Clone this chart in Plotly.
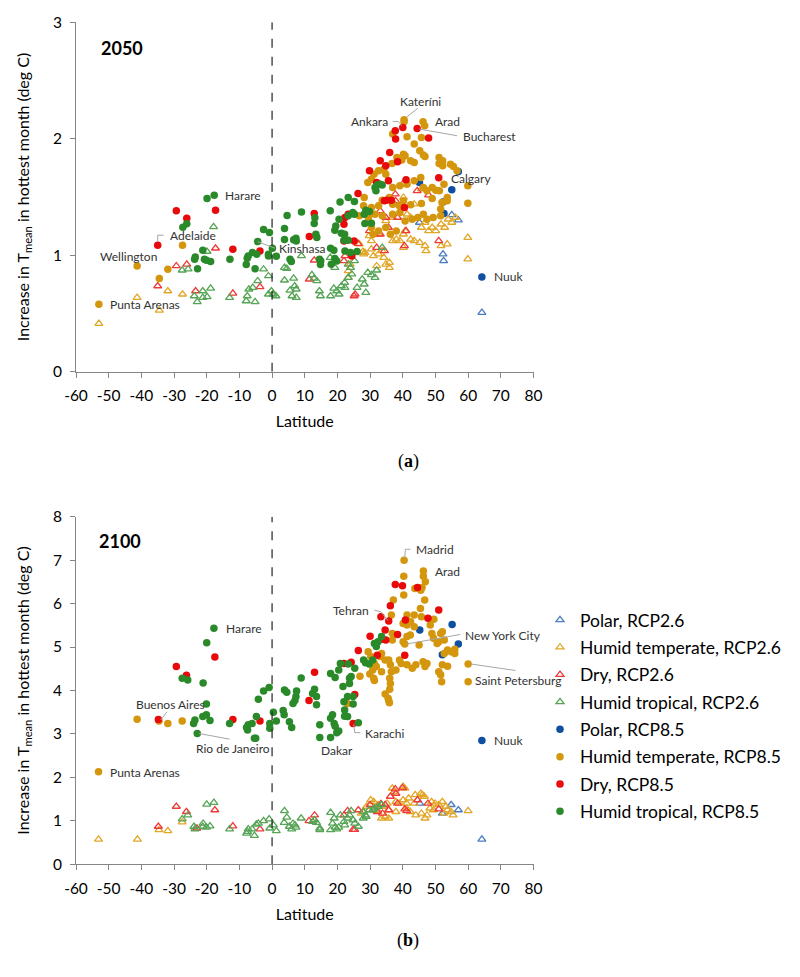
import plotly.graph_objects as go

# ---------------- DATA (latitude, increase in Tmean) ----------------
# Panel (a) 2050
a_polar26 = [(64.2,0.507),(52.3,1.009),(52.5,0.951),(55.0,1.347),(57.0,1.301),(45.1,1.281)]
a_temp26 = [(-53.0,0.413),(-41.3,0.636),(-34.5,0.527),(-31.9,0.693),(-27.4,0.665),
            (59.9,1.152),(59.9,0.966),(43.5,1.438),(45.7,1.567),(26.7,1.095),(27.8,1.031),(28.4,1.023),
            (29.7,1.166),(30.4,1.052),(31.0,0.994),(32.6,1.009),(33.7,1.037),(34.2,0.980),(34.8,0.922),
            (35.9,0.894),(35.9,0.937),(32.0,0.908),(36.9,1.123),(38.0,1.137),(39.1,1.123),(40.2,1.180),
            (40.7,1.209),(40.2,1.066),(42.4,1.137),(43.5,1.123),(45.2,1.109),(46.8,1.080),(47.1,1.037),
            (47.9,1.209),(49.0,1.238),(50.1,1.209),(51.7,1.266),(52.8,1.238),(53.9,1.309),(55.0,1.281),
            (56.1,1.324),(53.6,1.095),(51.7,1.080),(41.3,1.352),(40.2,1.496),(42.4,1.324),(36.9,1.324),
            (34.8,1.295),(32.6,1.180),(30.4,1.123),(45.7,1.238),(46.8,1.281),(23.3,0.808),(23.3,0.865),
            (23.9,0.922),(28.0,1.009)]
a_dry26 = [(-35.0,0.736),(-29.3,0.908),(-26.1,0.922),(-23.4,0.693),(-17.3,1.060),(-12.0,0.673),
           (-3.7,0.728),(12.9,0.957),(11.4,0.794),(22.0,0.951),(22.3,0.994),(25.1,0.650),(25.4,0.665),
           (26.3,1.100),(29.8,1.209),(32.0,1.066),(33.1,1.381),(33.1,1.180),(34.8,1.324),(35.6,1.238),
           (34.4,1.037),(37.7,1.524),(37.8,1.467),(38.4,1.324),(40.0,1.610),(40.5,1.080),(41.0,1.209),
           (44.4,1.553),(47.9,1.516),(51.0,1.123),(36.7,1.467)]
a_trop26 = [(-17.9,1.244),(-19.9,1.032),(-27.5,0.871),(-25.7,0.880),(-23.8,0.650),(-22.9,0.599),
            (-21.2,0.693),(-21.2,0.636),(-19.9,0.642),(-18.8,0.716),(-13.0,0.636),(-7.9,0.607),
            (-7.6,0.650),(-7.1,0.708),(-5.9,0.722),(-5.2,0.599),(-4.4,0.779),(-2.6,0.880),(-1.1,0.822),
            (-1.1,0.665),(-0.2,0.693),(0.3,0.665),(1.2,0.650),(3.8,0.785),(3.8,0.894),(4.5,0.885),
            (5.5,0.699),(6.1,0.650),(6.6,0.802),(6.9,0.736),(7.4,0.708),(7.4,0.636),(9.0,0.994),
            (12.2,0.831),(12.9,0.802),(13.7,0.779),(14.5,0.693),(14.8,0.650),(17.8,0.980),(17.9,0.650),
            (18.9,0.716),(19.2,0.894),(19.8,0.693),(20.5,0.665),(21.2,0.736),(22.2,0.765),(22.3,0.722),
            (23.3,0.922),(23.3,0.808),(24.0,0.894),(24.4,0.837),(25.2,0.951),(26.0,0.722),(27.6,0.794),
            (28.2,0.751),(28.7,0.679),(29.3,0.851),(30.4,0.831),(31.5,0.808),(32.0,0.871),(33.7,1.066)]
a_polar85 = [(45.1,1.625),(55.0,1.562),(57.0,1.719),(52.3,1.458),(52.6,1.358),(64.2,0.814)]
a_temp85 = [(-53.0,0.579),(-41.3,0.908),(-34.5,0.800),(-31.9,0.880),(-27.4,1.086),
            (40.4,2.163),(40.4,2.146),(46.2,2.146),(46.7,2.112),(45.7,2.011),(41.3,2.017),(36.9,2.040),
            (43.5,1.954),(45.2,1.897),(46.3,1.860),(46.8,1.848),(40.2,1.868),(40.7,1.854),(42.4,1.811),
            (43.5,1.797),(39.7,1.817),(36.7,1.788),(38.2,1.840),(51.1,1.840),(52.2,1.811),(54.6,1.782),
            (55.5,1.762),(56.6,1.725),(51.1,1.788),(52.2,1.768),(29.3,1.625),(30.4,1.653),(31.2,1.696),
            (32.6,1.725),(34.2,1.739),(34.8,1.696),(36.9,1.582),(39.1,1.596),(41.3,1.610),(43.5,1.639),
            (45.5,1.668),(46.3,1.582),(47.4,1.553),(49.0,1.582),(50.1,1.559),(51.2,1.553),(52.6,1.610),
            (59.9,1.596),(59.9,1.447),(53.6,1.467),(52.0,1.453),(28.2,1.496),(28.0,1.424),(30.4,1.410),
            (32.6,1.424),(33.7,1.473),(35.9,1.496),(36.9,1.438),(38.9,1.424),(40.2,1.467),(42.4,1.433),
            (45.7,1.444),(49.0,1.487),(26.7,1.338),(29.5,1.324),(31.5,1.352),(33.7,1.338),(36.9,1.352),
            (39.1,1.367),(40.7,1.295),(42.9,1.309),(44.6,1.324),(46.3,1.352),(47.4,1.309),(51.6,1.396),
            (51.6,1.338),(30.4,1.238),(32.6,1.209),(34.8,1.238),(36.2,1.180),(38.0,1.209),(30.9,1.180),
            (49.3,1.324),(53.6,1.496)]
a_dry85 = [(-35.0,1.086),(-29.3,1.381),(-26.1,1.318),(-17.3,1.387),(-12.0,1.052),(-3.7,1.037),
           (12.9,1.358),(11.4,1.160),(22.0,1.266),(22.3,1.324),(23.3,1.352),(22.0,1.123),(25.1,1.123),
           (24.4,0.994),(26.3,1.530),(29.8,1.725),(32.0,1.625),(33.1,1.811),(34.8,1.768),(34.4,1.467),
           (35.0,1.473),(35.6,1.639),(36.0,1.883),(37.7,2.069),(37.8,1.997),(40.0,2.097),(38.4,1.802),
           (40.5,1.410),(41.0,1.648),(44.4,2.089),(47.9,2.006),(51.0,1.665),(36.5,1.473)]
a_trop85 = [(-17.7,1.516),(-19.9,1.487),(-26.1,1.270),(-27.3,1.240),(-23.7,0.966),(-23.5,0.985),
            (-22.8,0.885),(-21.2,1.043),(-20.7,0.966),(-18.8,0.946),(-20.1,0.957),(-12.9,0.966),
            (-7.6,0.974),(-7.9,0.920),(-7.3,0.994),(-5.2,0.885),(-4.7,1.009),(-6.0,1.023),(-2.6,1.220),
            (-0.8,1.195),(-1.1,1.009),(-1.1,0.994),(1.3,0.991),(0.1,1.060),(-4.4,1.117),(3.8,1.135),
            (3.8,1.229),(4.6,1.341),(5.5,0.966),(5.9,0.946),(6.6,1.132),(7.3,1.146),(7.4,1.123),
            (9.0,1.372),(12.9,1.272),(13.1,1.321),(13.4,1.180),(13.7,1.152),(14.5,0.966),(14.8,0.920),
            (14.9,0.951),(17.8,1.381),(17.9,1.060),(18.9,1.043),(19.2,0.971),(19.8,0.951),(18.1,0.922),
            (19.2,1.215),(19.5,1.252),(20.8,1.458),(20.5,1.309),(21.2,1.189),(22.2,1.180),(22.0,1.129),
            (22.3,1.037),(23.3,1.496),(23.3,1.338),(23.3,1.129),(24.0,1.023),(25.2,1.461),(25.2,1.352),
            (24.7,1.367),(26.0,1.031),(28.2,1.352),(28.7,1.387),(29.8,1.375),(30.4,1.275),(28.4,1.272),
            (31.5,1.582),(32.3,1.605),(33.1,1.610),(33.7,1.602),(31.8,1.553)]

# Panel (b) 2100
b_polar26 = [(64.2,0.575),(54.8,1.37),(57.0,1.25),(45.2,1.40),(52.1,1.17)]
b_temp26 = [(-53.1,0.575),(-41.2,0.575),(-34.6,0.79),(-31.9,0.77),(-27.5,0.97),
            (60.0,1.23),(40.1,1.79),(40.6,1.75),(36.8,1.75),(37.4,1.67),(45.5,1.63),(46.0,1.60),
            (43.8,1.60),(46.6,1.56),(48.8,1.44),(49.9,1.40),(51.0,1.37),(52.1,1.44),(53.2,1.33),
            (53.7,1.25),(55.4,1.13),(54.8,1.21),(30.2,1.48),(31.1,1.44),(32.4,1.37),(34.1,1.33),
            (35.2,1.40),(35.7,1.25),(33.5,1.06),(34.6,1.10),(35.7,1.06),(37.9,1.44),(39.0,1.40),
            (40.1,1.48),(41.2,1.40),(41.8,1.52),(43.5,1.40),(44.0,1.13),(46.8,1.06),(47.4,1.13),
            (45.7,1.17),(48.3,1.29),(49.4,1.25),(28.9,1.33),(27.8,1.21),(27.3,1.17),(31.3,1.25),
            (32.4,1.23),(37.9,1.21),(41.2,1.29),(42.3,1.21),(52.6,1.17)]
b_dry26 = [(-34.8,0.87),(-29.3,1.33),(-26.2,1.21),(-23.0,0.83),(-17.5,1.25),(-12.0,0.88),
           (-3.7,0.81),(13.0,1.13),(11.3,1.00),(22.0,1.13),(23.1,1.23),(24.8,0.80),(25.3,0.80),
           (26.4,1.25),(30.0,1.37),(32.2,1.21),(33.3,1.39),(34.6,1.37),(35.7,1.25),(33.8,1.17),
           (36.2,1.56),(37.7,1.73),(37.9,1.63),(38.4,1.40),(39.9,1.76),(40.6,1.27),(41.2,1.23),
           (44.5,1.48),(47.7,1.40),(51.0,1.27)]
b_trop26 = [(-17.8,1.42),(-20.0,1.38),(-21.1,0.94),(-27.5,1.04),(-25.8,1.13),(-23.9,0.87),
            (-23.6,0.81),(-21.2,0.87),(-20.1,0.85),(-19.0,0.88),(-13.0,0.81),(-7.8,0.71),(-7.5,0.75),
            (-7.3,0.81),(-6.1,0.81),(-5.4,0.66),(-4.8,0.92),(-4.2,0.94),(-2.6,1.00),(-0.9,1.04),
            (-0.7,0.83),(0.4,0.90),(1.3,0.77),(3.7,0.96),(3.8,1.23),(4.5,1.08),(5.3,0.87),(6.0,0.81),
            (6.4,0.94),(7.0,0.90),(7.3,0.85),(8.9,1.06),(12.4,0.98),(13.0,1.02),(13.6,0.96),
            (14.6,0.83),(14.6,0.79),(17.9,1.19),(17.9,0.79),(18.5,0.94),(19.0,1.06),(19.3,0.85),
            (19.8,0.81),(20.4,0.85),(20.9,1.13),(22.0,0.98),(22.2,0.90),(23.1,1.06),(23.7,1.13),
            (24.2,1.23),(24.8,1.02),(25.3,0.94),(26.4,0.87),(28.0,1.21),(28.6,1.13),(29.7,1.25),
            (30.8,1.25),(31.3,1.29),(32.4,1.33),(33.5,1.37),(27.9,1.06),(28.8,1.10)]
b_polar85 = [(45.2,5.39),(55.1,5.52),(57.0,5.07),(52.1,4.82),(64.2,2.85)]
b_temp85 = [(-53.1,2.13),(-41.3,3.34),(-34.6,3.30),(-31.9,3.24),(-27.5,3.30),
            (40.4,7.00),(40.3,6.63),(40.3,6.20),(46.3,6.75),(46.3,6.63),(46.9,6.50),(45.9,6.37),
            (45.5,6.31),(46.7,6.08),(43.7,6.35),(37.1,6.08),(36.5,5.74),(41.3,5.74),(43.5,5.74),
            (45.4,5.89),(45.7,5.70),(40.1,5.54),(41.3,5.51),(42.4,5.58),(43.5,5.47),(48.4,5.51),
            (49.5,5.64),(48.9,5.31),(36.8,5.31),(36.8,5.16),(41.3,5.24),(42.3,5.28),(40.1,5.12),
            (40.6,5.07),(45.0,5.05),(49.4,5.20),(50.5,5.08),(51.0,5.12),(51.6,5.31),(52.1,5.35),
            (52.7,5.16),(29.4,4.89),(30.2,4.78),(31.3,4.62),(30.8,4.47),(31.9,4.55),(33.0,4.78),
            (33.5,4.85),(34.6,4.70),(33.5,4.43),(35.7,4.70),(36.2,4.59),(36.5,4.43),(36.0,4.28),
            (36.2,4.16),(36.0,4.03),(34.6,3.92),(35.5,3.82),(35.7,3.77),(35.9,3.72),(31.1,4.28),
            (31.3,4.23),(29.9,4.38),(26.9,4.33),(39.0,4.70),(39.5,4.62),(41.3,4.59),(42.9,4.51),
            (44.0,4.59),(46.2,4.66),(47.4,4.62),(46.8,4.55),(37.9,4.47),(51.0,4.43),(51.6,4.36),
            (51.9,4.20),(52.1,4.59),(53.7,4.56),(52.7,4.85),(53.7,4.93),(54.8,4.89),(55.9,4.95),
            (55.9,4.85),(60.0,4.61),(60.0,4.20),(23.1,3.70)]
b_dry85 = [(-29.3,4.55),(-26.2,4.35),(-17.5,4.77),(-34.8,3.33),(-12.0,3.33),(-3.7,3.30),
           (13.0,4.42),(11.3,3.77),(22.0,4.62),(24.2,4.65),(25.3,3.91),(24.8,3.24),(26.4,4.92),
           (30.0,5.25),(32.2,4.81),(33.3,5.70),(34.6,5.39),(35.7,5.60),(34.8,5.16),(33.7,5.18),
           (36.2,5.95),(37.7,6.44),(39.9,6.41),(40.6,4.81),(40.8,5.62),(38.4,5.29),(44.5,6.37),
           (47.7,5.66),(51.0,5.85)]
b_trop85 = [(-17.8,5.43),(-20.0,5.10),(-21.1,4.17),(-27.5,4.28),(-25.8,4.24),(-20.1,3.69),
            (-20.1,3.44),(-21.2,3.40),(-19.0,3.31),(-23.6,3.32),(-24.0,3.24),(-22.9,3.01),(-13.0,3.24),
            (-7.8,3.15),(-7.5,3.09),(-7.3,3.21),(-6.1,3.24),(-5.4,2.90),(-5.0,2.90),(-4.8,3.40),
            (-4.2,3.80),(-2.6,3.99),(-0.9,4.07),(-0.7,3.24),(-0.7,3.13),(0.4,3.50),(1.3,3.30),
            (3.4,3.54),(3.7,3.44),(3.8,4.01),(4.5,3.96),(5.3,3.28),(6.0,3.15),(6.4,3.70),(7.0,3.77),
            (7.3,3.86),(7.5,3.99),(8.9,4.29),(12.4,3.93),(13.0,4.03),(13.6,3.86),(13.6,3.67),
            (14.6,3.21),(14.6,2.92),(17.9,2.92),(17.9,3.36),(18.5,3.44),(19.0,3.24),(19.3,3.18),
            (19.8,3.03),(20.4,3.07),(17.9,4.39),(19.3,4.30),(20.4,4.47),(20.9,4.62),(22.0,3.74),
            (22.2,3.55),(22.2,3.41),(23.1,3.40),(23.1,3.86),(23.7,4.16),(24.2,4.32),(23.3,4.61),
            (25.3,4.51),(24.8,3.69),(24.8,3.86),(26.4,3.26),(28.0,4.70),(28.6,4.64),(29.7,4.61),
            (30.8,4.70),(31.3,5.08),(31.9,5.01),(32.4,5.12),(33.5,5.24),(23.7,4.28),(21.7,4.09)]

series_names = ["Polar, RCP2.6", "Humid temperate, RCP2.6", "Dry, RCP2.6", "Humid tropical, RCP2.6",
                "Polar, RCP8.5", "Humid temperate, RCP8.5", "Dry, RCP8.5", "Humid tropical, RCP8.5"]
panel_a = [a_polar26, a_temp26, a_dry26, a_trop26, a_polar85, a_temp85, a_dry85, a_trop85]
panel_b = [b_polar26, b_temp26, b_dry26, b_trop26, b_polar85, b_temp85, b_dry85, b_trop85]

# City labels: (text, lat, value, anchor)
labels_a = [("Kateríni", 38.6, 2.318, "left"), ("Ankara", 36.1, 2.146, "right"),
            ("Arad", 49.2, 2.146, "left"), ("Bucharest", 57.7, 2.020, "left"),
            ("Calgary", 54.1, 1.659, "left"), ("Harare", -14.9, 1.510, "left"),
            ("Adelaide", -31.9, 1.166, "left"), ("Wellington", -53.4, 0.986, "left"),
            ("Kinshasa", 1.5, 1.060, "left"), ("Punta Arenas", -50.2, 0.573, "left"),
            ("Nuuk", 67.2, 0.814, "left")]
labels_b = [("Madrid", 43.4, 7.25, "left"), ("Arad", 49.2, 6.73, "left"),
            ("Tehran", 30.2, 5.85, "right"), ("Harare", -14.8, 5.43, "left"),
            ("New York City", 58.5, 5.27, "left"), ("Saint Petersburg", 61.5, 4.24, "left"),
            ("Buenos Aires", -42.2, 3.67, "left"), ("Rio de Janeiro", -23.9, 2.67, "left"),
            ("Dakar", 14.4, 2.63, "left"), ("Karachi", 27.8, 3.01, "left"),
            ("Punta Arenas", -50.2, 2.12, "left"), ("Nuuk", 67.2, 2.85, "left")]
# leader lines (polyline of lat/value)
leaders_a = [[(41.3, 2.189), (44.6, 2.262)],
             [(36.9, 2.149), (38.6, 2.149), (39.7, 2.112)],
             [(45.1, 2.083), (56.6, 2.026)],
             [(-35.0, 1.117), (-35.0, 1.172), (-33.2, 1.172)],
             [(-4.4, 1.117), (0.9, 1.060)]]
leaders_b = [[(40.6, 7.04), (40.8, 7.25), (42.3, 7.25)],
             [(31.3, 5.85), (33.3, 5.81), (35.5, 5.61)],
             [(41.2, 5.07), (57.6, 5.29)],
             [(60.9, 4.61), (74.5, 4.46)],
             [(-34.1, 3.32), (-32.1, 3.51)],
             [(-22.3, 3.01), (-13.0, 2.88)],
             [(25.0, 3.22), (25.3, 3.03), (27.0, 3.03)]]

x_ticks = list(range(-60, 81, 10))
x_ticktext = [str(v) for v in x_ticks]

# ---------------- STYLE ----------------
fill_colors = ["#0F4FA0", "#D4960C", "#E80A0A", "#2A8A2A"]
tri_colors = ["#4A7CC4", "#E2A628", "#F03A3A", "#56A556"]
FONT = "Lato"
H = 977.0
OFF = 8.0  # page body margin

def py(p):  # screen pixel row -> paper y
    return 1 - (p - OFF) / H

def px(p):  # screen pixel column -> paper x
    return (p - OFF) / 800.0

fig = go.Figure()

def add_panel(data, xa, ya, show):
    for i, (pts, name) in enumerate(zip(data, series_names)):
        xs = [p[0] for p in pts]
        ys = [p[1] for p in pts]
        if i < 4:
            marker = dict(symbol="triangle-up-open", size=7, color=tri_colors[i],
                          line=dict(width=1.3, color=tri_colors[i]))
        else:
            marker = dict(symbol="circle", size=7.5, color=fill_colors[i - 4], line=dict(width=0))
        fig.add_trace(go.Scatter(x=xs, y=ys, mode="markers", name=name, marker=marker,
                                 xaxis=xa, yaxis=ya, showlegend=show, legendgroup=name,
                                 hoverinfo="x+y+name"))

add_panel(panel_a, "x", "y", False)
add_panel(panel_b, "x2", "y2", True)

annotations = []
shapes = []
for labels, xr, yr in [(labels_a, "x", "y"), (labels_b, "x2", "y2")]:
    for t, lx, ly, anc in labels:
        annotations.append(dict(text=t, x=lx, y=ly, xref=xr, yref=yr, showarrow=False,
                                xanchor=anc, yanchor="middle",
                                font=dict(family=FONT, size=12, color="#333333")))
for leaders, xr, yr in [(leaders_a, "x", "y"), (leaders_b, "x2", "y2")]:
    for pl in leaders:
        path = "M " + " L ".join(f"{p[0]},{p[1]}" for p in pl)
        shapes.append(dict(type="path", path=path, xref=xr, yref=yr,
                           line=dict(color="#A6A6A6", width=1)))

# dashed equator lines
shapes.append(dict(type="line", x0=0, x1=0, y0=0, y1=3, xref="x", yref="y",
                   line=dict(color="#222222", width=1.2, dash="dash")))
shapes.append(dict(type="line", x0=0, x1=0, y0=0, y1=8, xref="x2", yref="y2",
                   line=dict(color="#222222", width=1.2, dash="dash")))

# year labels
annotations.append(dict(text="<b>2050</b>", x=-46.0, y=2.777, xref="x", yref="y", showarrow=False,
                        font=dict(family=FONT, size=18, color="black")))
annotations.append(dict(text="<b>2100</b>", x=-46.4, y=7.44, xref="x2", yref="y2", showarrow=False,
                        font=dict(family=FONT, size=18, color="black")))
# panel letters
annotations.append(dict(text="(<b>a</b>)", x=px(408), y=py(461), xref="paper", yref="paper",
                        showarrow=False, font=dict(family="Liberation Serif", size=18, color="black")))
annotations.append(dict(text="(<b>b</b>)", x=px(408), y=py(953), xref="paper", yref="paper",
                        showarrow=False, font=dict(family="Liberation Serif", size=18, color="black")))

axis_common = dict(showline=True, linecolor="#868686", linewidth=1, ticks="outside", ticklen=5,
                   tickcolor="#868686", showgrid=False, zeroline=False, automargin=False,
                   tickfont=dict(family=FONT, size=15.5, color="black"))
xaxis_extra = dict(range=[-60, 80], tickvals=x_ticks, ticktext=x_ticktext, ticklabelstandoff=5,
                   title=dict(text="Latitude", font=dict(family=FONT, size=16), standoff=12))
yaxis_extra = dict(dtick=1, ticklabelstandoff=5,
                   title=dict(text="Increase in T<sub>mean</sub> in hottest month (deg C)",
                              font=dict(family=FONT, size=16), standoff=19))

fig.update_layout(
    width=800, height=977,
    margin=dict(l=0, r=0, t=0, b=0, autoexpand=False),
    paper_bgcolor="white", plot_bgcolor="white",
    font=dict(family=FONT, color="black"),
    xaxis=dict(domain=[px(76), px(533.5)], anchor="y", **xaxis_extra, **axis_common),
    yaxis=dict(domain=[py(371.7), py(22.3)], range=[0, 3], anchor="x", **yaxis_extra, **axis_common),
    xaxis2=dict(domain=[px(76), px(533.5)], anchor="y2", **xaxis_extra, **axis_common),
    yaxis2=dict(domain=[py(864.3), py(516.7)], range=[0, 8], anchor="x2", **yaxis_extra, **axis_common),
    legend=dict(x=px(540), y=py(602), xanchor="left", yanchor="top",
                font=dict(family=FONT, size=17.5, color="black"), tracegroupgap=1.6,
                itemwidth=30, bgcolor="rgba(0,0,0,0)"),
    annotations=annotations, shapes=shapes,
)

fig.write_html("out.html")
